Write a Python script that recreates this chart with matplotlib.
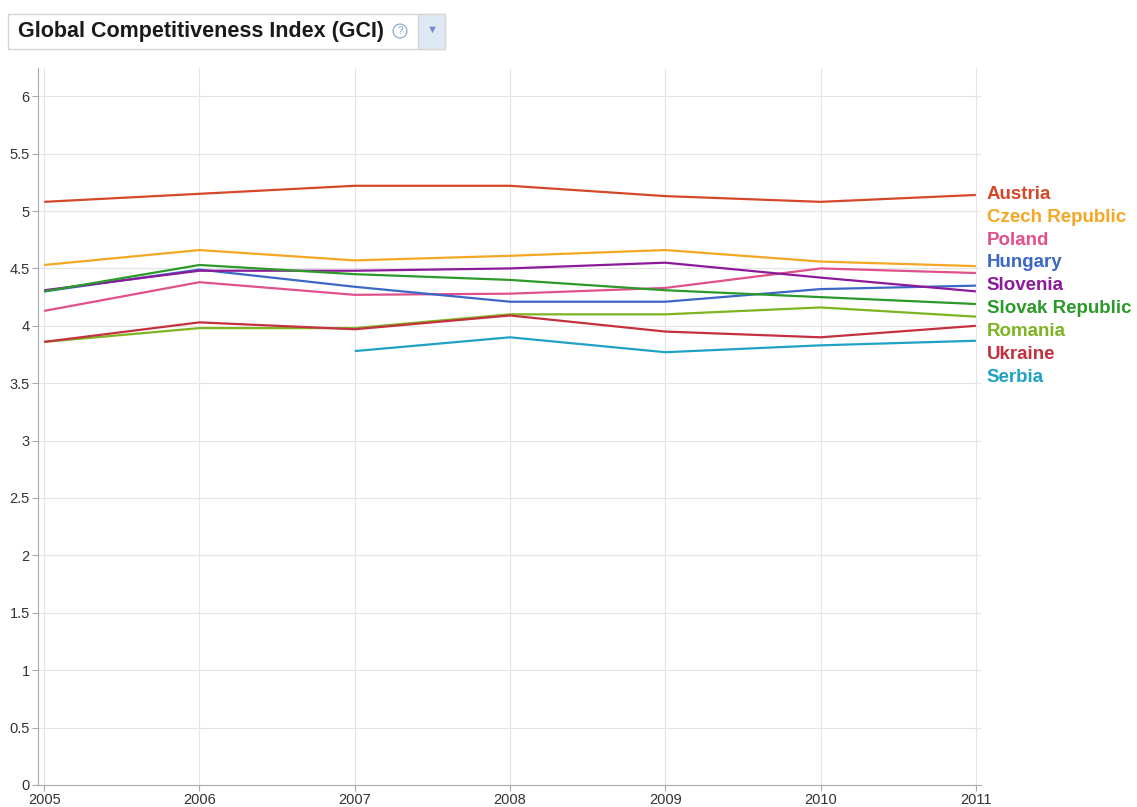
import matplotlib
matplotlib.use("Agg")
import matplotlib.pyplot as plt
from matplotlib.patches import Rectangle

plt.rcParams['font.family'] = ['Liberation Sans', 'DejaVu Sans']

years = [2005, 2006, 2007, 2008, 2009, 2010, 2011]
serbia_years = [2007, 2008, 2009, 2010, 2011]

austria = [5.08, 5.15, 5.22, 5.22, 5.13, 5.08, 5.14]
czech = [4.53, 4.66, 4.57, 4.61, 4.66, 4.56, 4.52]
poland = [4.13, 4.38, 4.27, 4.28, 4.33, 4.50, 4.46]
hungary = [4.30, 4.49, 4.34, 4.21, 4.21, 4.32, 4.35]
slovenia = [4.31, 4.48, 4.48, 4.50, 4.55, 4.42, 4.30]
slovak = [4.30, 4.53, 4.45, 4.40, 4.31, 4.25, 4.19]
romania = [3.86, 3.98, 3.98, 4.10, 4.10, 4.16, 4.08]
ukraine = [3.86, 4.03, 3.97, 4.09, 3.95, 3.90, 4.00]
serbia = [3.78, 3.90, 3.77, 3.83, 3.87]

series = [
    ("Austria", years, austria, "#d4482a"),
    ("Czech Republic", years, czech, "#f5a623"),
    ("Poland", years, poland, "#e0508a"),
    ("Hungary", years, hungary, "#3b67c7"),
    ("Slovenia", years, slovenia, "#8b1a9a"),
    ("Slovak Republic", years, slovak, "#2b9a2b"),
    ("Romania", years, romania, "#7db421"),
    ("Ukraine", years, ukraine, "#c3313f"),
    ("Serbia", serbia_years, serbia, "#1fa2c4"),
]

fig = plt.figure(figsize=(11.37, 8.07), dpi=100)
ax = fig.add_axes([0.0334, 0.0273, 0.829, 0.889])

for name, xs, ys, col in series:
    ax.plot(xs, ys, color=col, lw=1.6, solid_capstyle='butt')

ax.set_xlim(2004.96, 2011.03)
ax.set_ylim(0, 6.25)
ax.set_yticks([0, 0.5, 1, 1.5, 2, 2.5, 3, 3.5, 4, 4.5, 5, 5.5, 6])
ax.set_yticklabels(["0", "0.5", "1", "1.5", "2", "2.5", "3", "3.5", "4", "4.5", "5", "5.5", "6"])
ax.set_xticks(years)
ax.grid(True, color="#e4e4e4", lw=0.8)
ax.set_axisbelow(True)
for s in ["top", "right"]:
    ax.spines[s].set_visible(False)
ax.spines["left"].set_color("#aaaaaa")
ax.spines["bottom"].set_color("#aaaaaa")
ax.tick_params(colors="#aaaaaa", labelcolor="#333333", labelsize=10.5, length=4, pad=2)

# series labels at the right end
for i, (name, xs, ys, col) in enumerate(series):
    ax.text(2011.07, 5.145 - i * 0.199, name, color=col, fontsize=13.5, fontweight="bold",
            va="center", ha="left", clip_on=False)

# title box
fig.patches.append(Rectangle((8 / 1137, 1 - 49 / 807), 437 / 1137, 35 / 807,
                             transform=fig.transFigure, facecolor="white",
                             edgecolor="#d5d5d5", lw=1))
fig.patches.append(Rectangle((418 / 1137, 1 - 49 / 807), 27 / 1137, 35 / 807,
                             transform=fig.transFigure, facecolor="#dfe8f5",
                             edgecolor="#d5d5d5", lw=1))
fig.text(18 / 1137, 1 - 32 / 807, "Global Competitiveness Index (GCI)", fontsize=15.5,
         fontweight="bold", color="#1a1a1a", va="center", ha="left")
fig.text(400 / 1137, 1 - 31 / 807, "?", fontsize=7, color="#7fa3cc", ha="center", va="center",
         bbox=dict(boxstyle="circle,pad=0.2", fc="white", ec="#7fa3cc", lw=0.8))
fig.text(432 / 1137, 1 - 30 / 807, "\u25bc", fontsize=8, color="#6d8fc9", ha="center", va="center")

fig.savefig("out.png", dpi=100)
